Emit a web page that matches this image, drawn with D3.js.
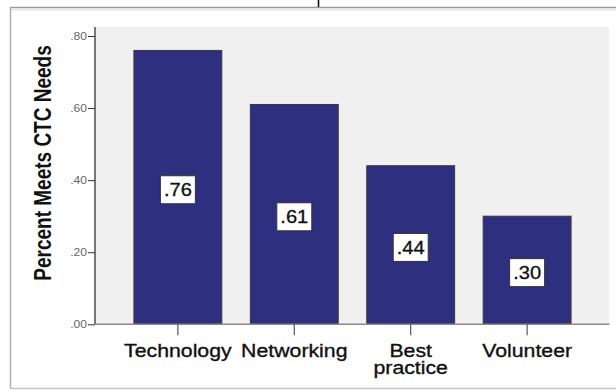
<!DOCTYPE html>
<html>
<head>
<meta charset="utf-8">
<script src="https://cdn.jsdelivr.net/npm/d3@7"></script>
<style>
  html, body { margin: 0; padding: 0; background: #ffffff; }
  svg { display: block; }
  text { font-family: "Liberation Sans", Arial, sans-serif; }
</style>
</head>
<body>
<svg id="chart" width="616" height="391"></svg>
<script>
// Share of respondents whose needs are met, by CTC service area
const categories = [["Technology"], ["Networking"], ["Best", "practice"], ["Volunteer"]];
const values = [0.76, 0.61, 0.44, 0.30];
const valueLabels = [".76", ".61", ".44", ".30"];
const yTicks = [0, 0.2, 0.4, 0.6, 0.8];
const yTickLabels = [".00", ".20", ".40", ".60", ".80"];
const yTitle = "Percent Meets CTC Needs";

const svg = d3.select("#chart");
const W = 616, H = 391;
const SX = 1.15; // glyphs are drawn slightly wide

const plot = { left: 95, right: 609, top: 27, bottom: 324.3 };

// outer frame
svg.append("line").attr("x1", 10).attr("x2", W).attr("y1", 7.5).attr("y2", 7.5)
  .attr("stroke", "#9a9a9a").attr("stroke-width", 1.5);
svg.append("line").attr("x1", 10).attr("x2", W).attr("y1", 9.5).attr("y2", 9.5)
  .attr("stroke", "#e6e6e6").attr("stroke-width", 2);
svg.append("line").attr("x1", 10.5).attr("x2", 10.5).attr("y1", 7).attr("y2", 388)
  .attr("stroke", "#b0b0b0").attr("stroke-width", 1.5);
svg.append("line").attr("x1", 10).attr("x2", W).attr("y1", 388.5).attr("y2", 388.5)
  .attr("stroke", "#c4c4c4").attr("stroke-width", 1.5);
svg.append("line").attr("x1", 318.5).attr("x2", 318.5).attr("y1", 0).attr("y2", 7)
  .attr("stroke", "#000").attr("stroke-width", 1.5);

const x = d3.scaleBand()
  .domain(categories.map(c => c.join(" ")))
  .range([plot.left, plot.right])
  .paddingInner(0.245)
  .paddingOuter(0.33);

const y = d3.scaleLinear().domain([0, 0.8]).range([plot.bottom, 36]);

// plot background
svg.append("rect")
  .attr("x", plot.left).attr("y", plot.top)
  .attr("width", plot.right - plot.left).attr("height", plot.bottom - plot.top)
  .attr("fill", "#f0f0f0");

// bars
svg.append("g").selectAll("rect")
  .data(values)
  .join("rect")
  .attr("x", (d, i) => x(categories[i].join(" ")) + 0.5)
  .attr("y", d => y(d))
  .attr("width", x.bandwidth())
  .attr("height", d => y(0) - y(d))
  .attr("fill", "#2e2f7e")
  .attr("stroke", "#3a3a3a")
  .attr("stroke-width", 1);

// y axis
const yAxis = d3.axisLeft(y)
  .tickValues(yTicks)
  .tickFormat((d, i) => yTickLabels[i])
  .tickSize(7)
  .tickPadding(2);
const gy = svg.append("g").attr("transform", `translate(${plot.left},0)`).call(yAxis);
gy.select(".domain").attr("d", `M0,${plot.top}V${plot.bottom}`).attr("stroke", "#222").attr("stroke-width", 1.2);
gy.selectAll(".tick line").attr("stroke", "#333");
gy.selectAll(".tick text")
  .attr("font-size", 10.5)
  .attr("fill", "#666")
  .attr("font-family", "'Liberation Sans', Arial, sans-serif")
  .each(function () {
    const t = d3.select(this);
    const xx = +t.attr("x");
    t.attr("x", null).attr("transform", `translate(${xx + 1},0) scale(${SX},1)`);
  });

// x axis
const xAxis = d3.axisBottom(x).tickSize(11).tickFormat("");
const gx = svg.append("g").attr("transform", `translate(0.5,${plot.bottom})`).call(xAxis);
gx.select(".domain").attr("d", `M${plot.left - 0.5},0H${plot.right}`).attr("stroke", "#8a8a8a").attr("stroke-width", 1.4);
gx.selectAll(".tick line").attr("stroke", "#555").attr("stroke-width", 1.2);

// category labels
const catG = svg.append("g");
categories.forEach((lines, i) => {
  const cx = x(lines.join(" ")) + x.bandwidth() / 2 + 0.5;
  lines.forEach((ln, j) => {
    catG.append("text")
      .attr("transform", `translate(${cx},${357 + j * 16.5}) scale(${SX},1)`)
      .attr("text-anchor", "middle")
      .attr("font-size", 18.5)
      .attr("fill", "#111")
      .attr("stroke", "#111")
      .attr("stroke-width", 0.35)
      .text(ln);
  });
});

// value labels in white boxes at the middle of each bar
const lab = svg.append("g").selectAll("g")
  .data(values)
  .join("g")
  .attr("transform", (d, i) => {
    const cx = x(categories[i].join(" ")) + x.bandwidth() / 2 + 0.5;
    const cy = (y(d) + y(0)) / 2 + 2.4;
    return `translate(${cx},${cy})`;
  });
lab.append("rect")
  .attr("x", -17.5).attr("y", -14)
  .attr("width", 35).attr("height", 28)
  .attr("fill", "#ffffff")
  .attr("stroke", "#333")
  .attr("stroke-width", 1);
lab.append("text")
  .attr("transform", `scale(${SX},1)`)
  .attr("text-anchor", "middle")
  .attr("dy", "0.36em")
  .attr("font-size", 17.5)
  .attr("fill", "#111")
  .attr("stroke", "#111")
  .attr("stroke-width", 0.3)
  .text((d, i) => valueLabels[i]);

// y axis title
svg.append("text")
  .attr("transform", `translate(51,163) scale(${SX + 0.1},1) rotate(-90)`)
  .attr("text-anchor", "middle")
  .attr("font-size", 19)
  .attr("font-weight", "bold")
  .attr("fill", "#111")
  .text(yTitle);
</script>
</body>
</html>
